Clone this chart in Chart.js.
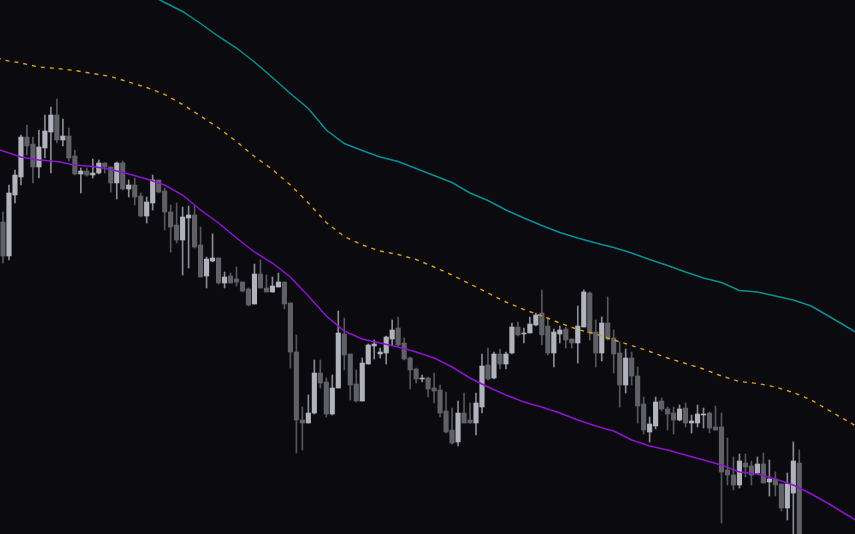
<!DOCTYPE html>
<html>
<head>
<meta charset="utf-8">
<script src="https://cdn.jsdelivr.net/npm/chart.js@4/dist/chart.umd.min.js"></script>
<style>
  html, body { margin: 0; padding: 0; background: #0a0a0f; overflow: hidden; }
  #wrap { width: 855px; height: 534px; position: relative; }
</style>
</head>
<body>
<div id="wrap"><canvas id="c"></canvas></div>
<script>
// Candle OHLC values (one per bar slot, slot 0 at the left edge)
const openVals = [312,278,339,357,397,390,367,386,402,419,
  394,398,378,360,363,359,361,371,367,351,
  371,345,349,338,318,331,354,343,322,309,
  294,316,319,289,258,273,276,251,258,255,
  252,245,230,260,246,242,247,252,231,182,
  114,111,121,161,152,120,146,200,180,150,
  133,170,188,180,181,195,206,191,176,165,
  155,156,146,144,123,104,92,121,114,111,
  127,169,156,180,170,181,207,200,201,209,
  221,208,181,200,205,195,191,207,241,202,
  181,211,196,181,149,176,158,130,102,108,
  133,125,121,114,126,111,111,119,121,107,
  107,64,59,49,71,68,61,70,52,55,
  50,26,41,71];
const closeVals = [278,341,359,397,388,367,387,403,419,394,
  398,376,360,363,359,361,371,367,351,371,
  345,349,337,318,332,354,342,322,307,294,
  317,319,287,257,275,276,251,257,251,252,
  243,229,260,246,242,248,252,230,182,114,
  111,121,161,151,120,146,201,179,149,133,
  171,189,190,182,197,204,189,175,164,155,
  156,145,143,121,102,91,121,111,111,131,
  168,155,180,170,180,207,199,201,210,219,
  199,181,202,204,194,191,208,242,201,181,
  211,195,180,149,176,158,128,104,110,132,
  125,120,114,125,111,113,120,120,106,104,
  62,59,49,73,67,59,70,51,55,49,
  26,50,73,-11];
const highVals = [322,349,364,399,409,397,404,419,427,435,
  415,406,384,366,366,375,374,371,367,372,
  373,354,356,341,337,359,354,346,329,331,
  327,328,328,307,277,300,276,262,261,267,
  252,246,270,274,259,257,261,252,231,199,
  127,139,174,174,156,159,223,216,180,164,
  176,190,194,186,198,214,217,196,177,166,
  159,157,161,149,142,126,133,141,131,141,
  180,186,182,185,182,211,212,206,217,221,
  244,217,205,208,207,195,228,244,242,214,
  217,237,204,192,185,182,167,137,117,137,
  136,127,127,129,131,119,129,126,122,128,
  121,96,77,80,80,73,77,81,74,62,
  50,61,92,84];
const lowVals = [271,274,331,349,379,351,356,376,361,391,
  388,373,359,341,358,356,360,361,342,335,
  344,337,329,317,311,324,341,304,282,291,
  259,266,286,257,246,272,250,246,251,248,
  242,228,230,246,242,242,247,225,166,81,
  84,111,120,146,117,119,146,164,134,132,
  133,170,175,176,170,189,188,174,145,151,
  152,137,131,117,101,90,88,111,111,99,
  121,154,155,165,165,180,198,191,201,208,
  189,179,167,191,186,186,171,207,194,167,
  173,194,161,127,141,149,111,100,92,105,
  123,104,100,113,107,101,107,106,101,104,
  11,49,44,46,57,49,60,51,38,38,
  23,14,-11,-16];

// Indicator lines, sampled at these bar slots
const lineSlots = [-1,0,3,6,9,12,15,18,21,24,27,30,33,36,39,42,45,48,51,54,57,60,63,66,69,72,75,78,81,84,87,90,93,96,99,102,105,108,111,114,117,120,123,126,129,132,135,138,141,143];
const purpleVals = [385,383,377,374,372.5,369,367.5,364.5,360,355,349,339,324,311,296,282,271,257,238,218,203,195,191,187,182,176,167,156,147,139,132,127,121,114,108,103,94,88,84,79,74,69,62,60,55,49,40,30,19,12];
const orangeVals = [476.5,474,471,467,465.5,463.5,460.5,457.5,452,446.5,439.5,429.5,418,406,392.5,377.5,364.5,349,331,311.5,297.5,289,283,279.5,274.5,267,259,250,241,232,224.5,218,211,204.5,200,194,188.5,182.5,176,170.5,165,158,152.5,150.5,147,141.5,134,123.5,113,106];
const tealVals = [null,null,null,null,null,null,null,null,550,541,531.5,522.5,510.5,497.5,486,472,456.5,440.5,425.5,404,390.5,383.5,377,372.5,365.5,358.5,351.5,341,333.5,324,316,308.5,301.5,296,291,286.5,281,274.5,268.5,262,256,251.5,243.5,242,238,234,228,217.5,207,200];

const UP_BODY = '#b1b3bc', DOWN_BODY = '#606166';
const UP_WICK = '#8a8c93', DOWN_WICK = '#56575c';

const isUp = openVals.map((o, i) => closeVals[i] >= o);
const bodyData = openVals.map((o, i) => ({ x: i, y: [o, closeVals[i]] }));
const wickData = openVals.map((o, i) => ({ x: i, y: [lowVals[i], highVals[i]] }));
const toLine = vals => lineSlots.map((s, i) => ({ x: s, y: vals[i] }));

new Chart(document.getElementById('c'), {
  type: 'bar',
  data: {
    datasets: [
      { type: 'line', data: toLine(tealVals), borderColor: '#0b8f94', borderWidth: 1.5, pointRadius: 0, tension: 0, order: 0, spanGaps: false },
      { type: 'line', data: toLine(orangeVals), borderColor: '#dfa01c', borderWidth: 1.4, borderDash: [4, 5], pointRadius: 0, tension: 0, order: 0 },
      { type: 'line', data: toLine(purpleVals), borderColor: '#9012d0', borderWidth: 1.5, pointRadius: 0, tension: 0, order: 0 },
      { type: 'bar', data: bodyData, backgroundColor: isUp.map(u => u ? UP_BODY : DOWN_BODY), barThickness: 4.5, minBarLength: 1, grouped: false, borderWidth: 0, order: 1 },
      { type: 'bar', data: wickData, backgroundColor: isUp.map(u => u ? UP_WICK : DOWN_WICK), barThickness: 1, minBarLength: 1, grouped: false, borderWidth: 0, order: 2 }
    ]
  },
  options: {
    responsive: true,
    maintainAspectRatio: false,
    animation: false,
    layout: { padding: 0 },
    plugins: { legend: { display: false }, tooltip: { enabled: false } },
    scales: {
      x: { type: 'linear', min: -0.5, max: 142.3, display: false, offset: false, grid: { display: false } },
      y: { type: 'linear', min: 0, max: 534, display: false, grid: { display: false } }
    }
  }
});
</script>
</body>
</html>
